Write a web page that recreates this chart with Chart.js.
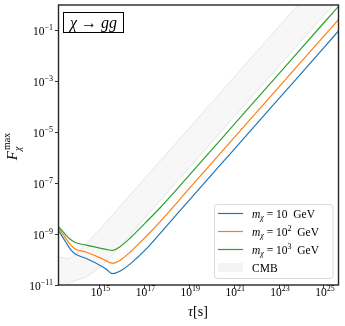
<!DOCTYPE html>
<html>
<head>
<meta charset="utf-8">
<script src="https://cdn.jsdelivr.net/npm/chart.js@4.4.1/dist/chart.umd.min.js"></script>
<style>
  html, body { margin: 0; padding: 0; background: #fff; }
  canvas { display: block; }
</style>
</head>
<body>
<canvas id="fluxChart" width="345" height="326"></canvas>
<script>
// lifetime tau [s] and max fraction for the three masses
const tau = [1.48e13, 3.16e13, 5.25e13, 8.32e13, 2.57e14, 1.07e15, 2.0e15, 3.72e15, 7.94e15, 2.34e16, 1.10e17, 5.13e17, 1e19, 1e21, 1e23, 1e25, 4.47e25];
const fMax10 = [1.41e-9, 4.8e-10, 2.4e-10, 1.66e-10, 1.1e-10, 5.9e-11, 4.2e-11, 2.8e-11, 3.5e-11, 6.8e-11, 2.4e-10, 1.1e-9, 2.2e-8, 2.2e-6, 2.2e-4, 0.022, 0.1];
const fMax100 = [1.82e-9, 6.8e-10, 3.7e-10, 2.6e-10, 1.95e-10, 1.17e-10, 8.9e-11, 7.2e-11, 9.3e-11, 2.0e-10, 7.6e-10, 3.2e-9, 6.3e-8, 6.3e-6, 6.3e-4, 0.063, 0.28];
const fMax1000 = [2.0e-9, 9.3e-10, 6.0e-10, 4.7e-10, 3.7e-10, 2.82e-10, 2.51e-10, 2.3e-10, 3.16e-10, 7.1e-10, 2.8e-9, 1.12e-8, 2.1e-7, 2.1e-5, 2.1e-3, 0.21, 0.93];

// CMB excluded band
const cmbTau = [1.48e13, 3.89e13, 7.94e13, 2.57e14, 1e15, 2e15, 1e16, 1e17, 1e19, 1e21, 1e23, 5.25e23, 1e25, 2.57e25, 4.47e25];
const cmbUpper = [1.29e-10, 1.12e-10, 1.58e-10, 4.27e-10, 1.51e-9, 3.0e-9, 1.51e-8, 1.51e-7, 1.51e-5, 1.51e-3, 0.151, 0.79, 15.1, 38.9, 67.6];
const cmbLower = [5.0e-12, 1.07e-11, 1.48e-11, 2.09e-11, 5.0e-11, 8.3e-11, 4.17e-10, 4.17e-9, 4.17e-7, 4.17e-5, 4.17e-3, 0.0219, 0.417, 1.07, 1.86];

const xTicks = [1e15, 1e17, 1e19, 1e21, 1e23, 1e25];
const yTicks = [1e-11, 1e-9, 1e-7, 1e-5, 1e-3, 1e-1];
const massExponents = ['', '2', '3'];
const colors = ['#1f77b4', '#ff7f0e', '#2ca02c'];

const SERIF = "'Liberation Serif', 'DejaVu Serif', serif";
const toXY = (xs, ys) => xs.map((x, i) => ({ x: x, y: ys[i] }));

// draw a run of text pieces: [text, font, dy]
function drawParts(ctx, parts, x, y, align) {
  let w = 0;
  parts.forEach(p => { ctx.font = p[1]; w += ctx.measureText(p[0]).width; });
  let cx = align === 'center' ? x - w / 2 : (align === 'right' ? x - w : x);
  parts.forEach(p => {
    ctx.font = p[1];
    ctx.fillText(p[0], cx, y + (p[2] || 0));
    cx += ctx.measureText(p[0]).width;
  });
}

function powerLabel(v) {
  const e = Math.round(Math.log10(v));
  return [['10', '11.5px ' + SERIF, 0], [(e < 0 ? '\u2212' : '') + Math.abs(e), '8px ' + SERIF, -5]];
}

const decorations = {
  id: 'decorations',
  afterDraw(chart) {
    const ctx = chart.ctx;
    const area = chart.chartArea;
    const xs = chart.scales.x, ys = chart.scales.y;
    ctx.save();
    ctx.fillStyle = '#000';
    ctx.textBaseline = 'alphabetic';

    // frame
    ctx.strokeStyle = '#262626';
    ctx.lineWidth = 1.4;
    ctx.strokeRect(area.left, area.top, area.right - area.left, area.bottom - area.top);

    // tick labels
    xs.ticks.forEach(t => {
      drawParts(ctx, powerLabel(t.value), xs.getPixelForValue(t.value) + 1, 296, 'center');
    });
    ys.ticks.forEach(t => {
      drawParts(ctx, powerLabel(t.value), 53, ys.getPixelForValue(t.value) + 4.5, 'right');
    });

    // x title
    drawParts(ctx, [['\u03c4', 'italic 14px ' + SERIF], ['[s]', '14px ' + SERIF]], 198, 316, 'center');

    // y title (rotated)
    ctx.save();
    ctx.translate(17, 147);
    ctx.rotate(-Math.PI / 2);
    ctx.font = 'italic 15px ' + SERIF;
    const fw = ctx.measureText('F').width;
    ctx.font = '10px ' + SERIF;
    const mw = ctx.measureText('max').width;
    let x0 = -(fw + mw) / 2;
    ctx.font = 'italic 15px ' + SERIF;
    ctx.fillText('F', x0, 0);
    ctx.font = '10px ' + SERIF;
    ctx.fillText('max', x0 + fw + 1, -7);
    ctx.font = 'italic 10px ' + SERIF;
    ctx.fillText('\u03c7', x0 + fw, 4);
    ctx.restore();

    // process box
    ctx.fillStyle = '#fff';
    ctx.fillRect(63.5, 12.5, 60, 20);
    ctx.strokeStyle = '#000';
    ctx.lineWidth = 1;
    ctx.strokeRect(63.5, 12.5, 60, 20);
    ctx.fillStyle = '#000';
    drawParts(ctx, [['\u03c7', 'italic 16px ' + SERIF], [' \u2192 ', '16px ' + SERIF], ['gg', 'italic 16px ' + SERIF]], 93.5, 27.5, 'center');

    // legend
    ctx.beginPath();
    ctx.roundRect(214.5, 204.5, 118.5, 74, 3);
    ctx.fillStyle = 'rgba(255,255,255,0.8)';
    ctx.fill();
    ctx.strokeStyle = '#d0d0d0';
    ctx.lineWidth = 0.8;
    ctx.stroke();
    const rows = [213.5, 231.5, 249.5, 267.5];
    massExponents.forEach((e, i) => {
      ctx.strokeStyle = colors[i];
      ctx.lineWidth = 1.2;
      ctx.beginPath();
      ctx.moveTo(218, rows[i]);
      ctx.lineTo(243, rows[i]);
      ctx.stroke();
      ctx.fillStyle = '#000';
      const parts = [['m', 'italic 11.5px ' + SERIF], ['\u03c7', 'italic 8px ' + SERIF, 2.5], [' = 10', '11.5px ' + SERIF]];
      if (e) parts.push([e, '8px ' + SERIF, -5]);
      parts.push(['  GeV', '11.5px ' + SERIF]);
      drawParts(ctx, parts, 252, rows[i] + 4);
    });
    ctx.fillStyle = '#f3f3f3';
    ctx.fillRect(218, rows[3] - 4.5, 25, 9);
    ctx.fillStyle = '#000';
    drawParts(ctx, [['CMB', '11.5px ' + SERIF]], 252, rows[3] + 4);
    ctx.restore();
  }
};

const curve = (data, color, order) => ({
  data: data,
  borderColor: color,
  backgroundColor: color,
  borderWidth: 1.2,
  pointRadius: 0,
  fill: false,
  cubicInterpolationMode: 'monotone',
  order: order
});

const axisGrid = { drawOnChartArea: false, drawTicks: true, tickLength: 3.5, tickWidth: 0.8, tickColor: '#000' };

new Chart(document.getElementById('fluxChart').getContext('2d'), {
  type: 'line',
  data: {
    datasets: [
      {
        data: toXY(cmbTau, cmbUpper),
        borderColor: '#e4e4e4',
        borderWidth: 1,
        backgroundColor: 'rgba(0,0,0,0.033)',
        pointRadius: 0,
        fill: '+1',
        cubicInterpolationMode: 'monotone',
        order: 6
      },
      {
        data: toXY(cmbTau, cmbLower),
        borderColor: '#e4e4e4',
        borderWidth: 1,
        pointRadius: 0,
        fill: false,
        cubicInterpolationMode: 'monotone',
        order: 5
      },
      curve(toXY(tau, fMax10), colors[0], 3),
      curve(toXY(tau, fMax100), colors[1], 2),
      curve(toXY(tau, fMax1000), colors[2], 1)
    ]
  },
  options: {
    responsive: false,
    animation: false,
    devicePixelRatio: 1,
    layout: { padding: { top: 5, right: 6.5, left: 0, bottom: 0 } },
    scales: {
      x: {
        type: 'logarithmic',
        min: 1.48e13,
        max: 4.47e25,
        afterBuildTicks: s => { s.ticks = xTicks.map(v => ({ value: v })); },
        afterFit: s => { s.height = 41; },
        ticks: { display: false },
        grid: axisGrid,
        border: { display: false }
      },
      y: {
        type: 'logarithmic',
        min: 1e-11,
        max: 1.05,
        afterBuildTicks: s => { s.ticks = yTicks.map(v => ({ value: v })); },
        afterFit: s => { s.width = 58.5; },
        ticks: { display: false },
        grid: axisGrid,
        border: { display: false }
      }
    },
    plugins: {
      legend: { display: false },
      tooltip: { enabled: false },
      title: { display: false }
    }
  },
  plugins: [decorations]
});
</script>
</body>
</html>
